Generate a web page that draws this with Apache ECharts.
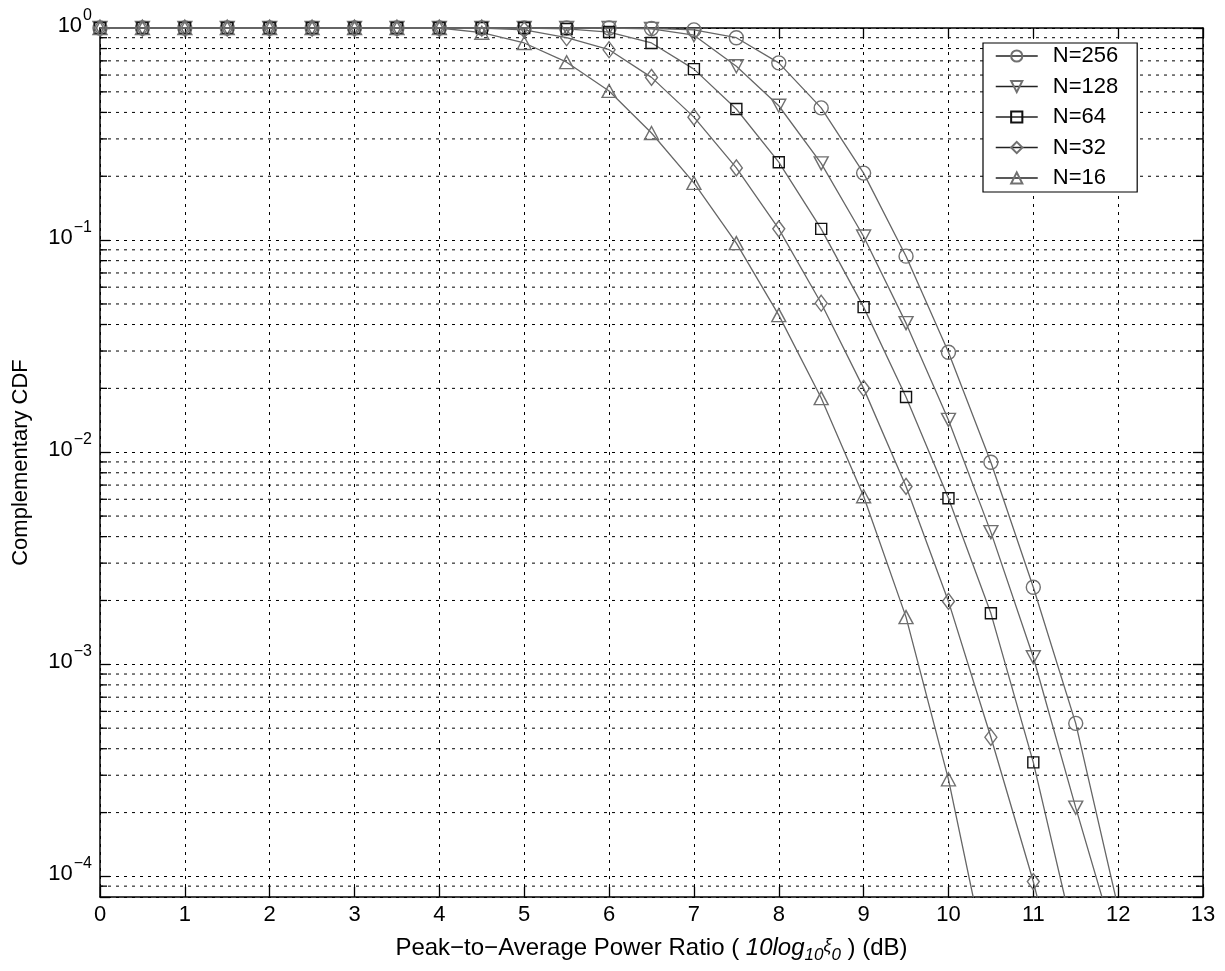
<!DOCTYPE html>
<html>
<head>
<meta charset="utf-8">
<script src="https://cdn.jsdelivr.net/npm/echarts@6/dist/echarts.min.js"></script>
<style>
html,body{margin:0;padding:0;background:#fff;}
#chart{width:1225px;height:971px;}
</style>
</head>
<body>
<div id="chart"></div>
<script>
// ---- data ----
const xValues = [0,0.5,1,1.5,2,2.5,3,3.5,4,4.5,5,5.5,6,6.5,7,7.5,8,8.5,9,9.5,10,10.5,11,11.5,12];
const seriesNames = ['N=256','N=128','N=64','N=32','N=16'];
const ccdf256 = [1,1,1,1,1,1,1,1,1,1,1,1,1,0.995,0.98,0.9,0.685,0.42,0.207,0.084,0.0296,0.00897,0.00231,0.000527,0.000071];
const ccdf128 = [1,1,1,1,1,1,1,1,1,1,1,1,1,0.99,0.925,0.66,0.43,0.23,0.104,0.0406,0.0142,0.0042,0.00108,0.000211,0.000044];
const ccdf64  = [1,1,1,1,1,1,1,1,1,1,1,0.99,0.957,0.85,0.64,0.415,0.233,0.113,0.0483,0.0182,0.00607,0.00174,0.000345,0.000048,null];
const ccdf32  = [1,1,1,1,1,1,1,1,1,1,0.98,0.9,0.79,0.585,0.38,0.219,0.113,0.0504,0.020,0.0069,0.00198,0.000453,0.0000946,0.000015,null];
const ccdf16  = [1,1,1,1,1,1,1,1,1,0.95,0.85,0.69,0.505,0.32,0.186,0.0968,0.0443,0.018,0.0062,0.00167,0.000287,0.000032,null,null,null];
const xTicks = [0,1,2,3,4,5,6,7,8,9,10,11,12,13];
const yMin = 8e-5, yMax = 1;
// minor log grid values (2..9 x 10^e) inside the range
const minorVals = [];
for (let e = -5; e <= -1; e++) {
  for (let k = 2; k <= 9; k++) {
    const v = k * Math.pow(10, e);
    if (v > yMin * 1.01 && v < yMax) minorVals.push(v);
  }
}

const FONT = "'Liberation Sans', Arial, Helvetica, sans-serif";
const gridStroke = {color:'#000', width:1, type:[3,5]};

function pairs(arr){ return xValues.map((x,i)=> arr[i]==null ? [x,null] : [x,arr[i]]); }

const markerStyles = [
  {symbol:'circle', size:14, rotate:0, color:'#707070'},
  {symbol:'triangle', size:[14,13], rotate:180, color:'#707070'},
  {symbol:'rect', size:11, rotate:0, color:'#111'},
  {symbol:'diamond', size:[12,16], rotate:0, color:'#707070'},
  {symbol:'triangle', size:[14,13], rotate:0, color:'#707070'}
];
const dataSets = [ccdf256, ccdf128, ccdf64, ccdf32, ccdf16];

const lineSeries = dataSets.map((d,i)=>({
  name: seriesNames[i],
  type:'line',
  data: pairs(d),
  connectNulls:false,
  clip:true,
  symbol: markerStyles[i].symbol,
  symbolSize: markerStyles[i].size,
  symbolRotate: markerStyles[i].rotate,
  showAllSymbol:true,
  lineStyle:{color:'#666', width:1.3},
  itemStyle:{color:'rgba(255,255,255,0)', borderColor:markerStyles[i].color, borderWidth:1.4},
  emphasis:{disabled:true},
  z:5
}));

const minorSeries = {
  type:'custom',
  silent:true,
  z:1,
  data: minorVals.map(v=>[0,v]),
  encode:{x:0,y:1},
  renderItem: function(params, api){
    const v = api.value(1);
    const p0 = api.coord([0, v]);
    const p1 = api.coord([13, v]);
    return {type:'group', children:[
      {type:'line', shape:{x1:p0[0],y1:p0[1],x2:p1[0],y2:p1[1]}, style:{stroke:'#000', lineWidth:1, lineDash:[3,5]}},
      {type:'line', shape:{x1:p0[0],y1:p0[1],x2:p0[0]+7,y2:p0[1]}, style:{stroke:'#000', lineWidth:1.3}},
      {type:'line', shape:{x1:p1[0]-7,y1:p1[1],x2:p1[0],y2:p1[1]}, style:{stroke:'#000', lineWidth:1.3}}
    ]};
  }
};

function isPow10(v){ const l = Math.log10(v); return Math.abs(l - Math.round(l)) < 1e-6; }

const chart = echarts.init(document.getElementById('chart'), null, {renderer:'canvas'});
chart.setOption({
  animation:false,
  backgroundColor:'#fff',
  textStyle:{fontFamily:FONT},
  grid:{left:100, right:22, top:28, bottom:74},
  legend:{
    data: seriesNames,
    orient:'vertical',
    left:983, top:43,
    padding:[2,19,3,12],
    itemWidth:42, itemHeight:14, itemGap:8.5,
    backgroundColor:'#fff', borderColor:'#000', borderWidth:1.2, borderRadius:0,
    textStyle:{fontSize:22, lineHeight:21, color:'#000', fontFamily:FONT, padding:[0,0,0,10]},
    lineStyle:{color:'#222', width:1.5},
    selectedMode:false
  },
  xAxis:[{
    type:'value', min:0, max:13, interval:1, position:'bottom',
    axisLine:{show:true, onZero:false, lineStyle:{color:'#000', width:1.5}},
    axisTick:{show:true, inside:true, length:10, lineStyle:{color:'#000', width:1.3}},
    axisLabel:{fontSize:22, color:'#000', margin:7, fontFamily:FONT},
    splitLine:{show:true, lineStyle:gridStroke},
    name:'{n|Peak\u2212to\u2212Average Power Ratio ( }{i|10log}{sb|10}{xi|\u03be}{sb|0}{n| ) (dB)}',
    nameLocation:'middle', nameGap:36,
    nameTextStyle:{
      fontSize:24, color:'#000', fontFamily:FONT,
      rich:{
        n:{fontSize:24, color:'#000', fontFamily:FONT},
        i:{fontSize:24, color:'#000', fontStyle:'italic', fontFamily:FONT},
        sb:{fontSize:17, color:'#000', fontStyle:'italic', fontFamily:FONT, padding:[14,0,0,0]},
        xi:{fontSize:18, color:'#000', fontStyle:'italic', fontFamily:FONT, padding:[0,0,6,0]}
      }
    }
  },{
    type:'value', min:0, max:13, interval:1, position:'top',
    axisLine:{show:true, onZero:false, lineStyle:{color:'#000', width:1.5}},
    axisTick:{show:true, inside:true, length:10, lineStyle:{color:'#000', width:1.3}},
    axisLabel:{show:false}, splitLine:{show:false}
  }],
  yAxis:[{
    type:'log', logBase:10, min:yMin, max:yMax, position:'left',
    axisLine:{show:true, onZero:false, lineStyle:{color:'#000', width:1.5}},
    axisTick:{show:true, inside:true, length:10, lineStyle:{color:'#000', width:1.3}},
    splitLine:{show:true, lineStyle:gridStroke},
    axisLabel:{
      fontFamily:FONT, color:'#000', margin:8, padding:[0,0,12,0],
      formatter:function(v){
        if(!isPow10(v)) return '';
        return '{b|10}{s|' + String(Math.round(Math.log10(v))).replace('-', '\u2212') + '}';
      },
      rich:{
        b:{fontSize:22, color:'#000', fontFamily:FONT, verticalAlign:'bottom'},
        s:{fontSize:16, color:'#000', fontFamily:FONT, verticalAlign:'bottom', padding:[0,0,13,1]}
      }
    },
    name:'Complementary CDF', nameLocation:'middle', nameGap:68,
    nameTextStyle:{fontSize:22, color:'#000', fontFamily:FONT}
  },{
    type:'log', logBase:10, min:yMin, max:yMax, position:'right',
    axisLine:{show:true, onZero:false, lineStyle:{color:'#000', width:1.5}},
    axisTick:{show:true, inside:true, length:10, lineStyle:{color:'#000', width:1.3}},
    axisLabel:{show:false}, splitLine:{show:false}
  }],
  series:[minorSeries].concat(lineSeries)
});
</script>
</body>
</html>
